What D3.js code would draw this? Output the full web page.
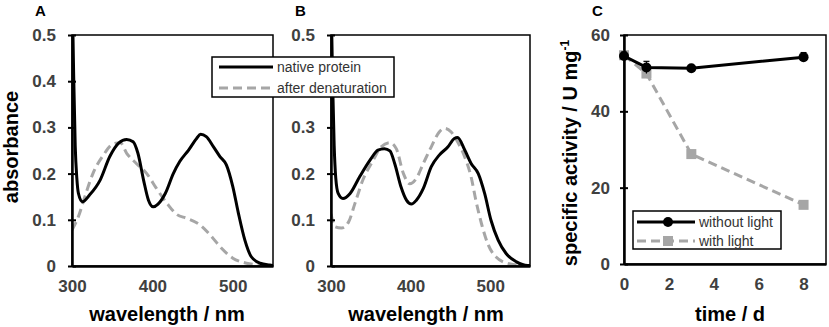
<!DOCTYPE html>
<html>
<head>
<meta charset="utf-8">
<script src="https://cdn.jsdelivr.net/npm/d3@7"></script>
<style>
body { margin: 0; background: #fff; }
svg { font-family: "Liberation Sans", Arial, sans-serif; display: block; }
</style>
</head>
<body>
<script>
// panel A: spectra of the native and the denatured protein
var wlNativeA = [300, 302, 304, 306, 308, 313, 322, 335, 347, 358, 368, 376, 382, 389, 395, 401, 407, 416, 426, 434, 445, 455, 460, 467, 476, 484, 492, 500, 507, 515, 523, 534, 546, 550];
var absNativeA = [0.62, 0.42, 0.26, 0.19, 0.157, 0.139, 0.154, 0.186, 0.237, 0.266, 0.274, 0.269, 0.244, 0.186, 0.143, 0.128, 0.134, 0.157, 0.2, 0.226, 0.251, 0.276, 0.285, 0.28, 0.258, 0.237, 0.219, 0.172, 0.114, 0.056, 0.02, 0.006, 0.002, 0.001];
var wlDenatA = [300, 308, 316, 326, 339, 351, 360, 368, 380, 393, 405, 418, 430, 443, 459, 472, 484, 500, 517, 535, 550];
var absDenatA = [0.078, 0.107, 0.15, 0.2, 0.24, 0.264, 0.267, 0.244, 0.222, 0.2, 0.168, 0.136, 0.112, 0.103, 0.089, 0.067, 0.042, 0.017, 0.006, 0.002, 0.001];

// panel B
var wlNativeB = [300, 302, 304, 306, 309, 315, 324, 336, 349, 359, 367, 374, 380, 388, 395, 401, 407, 416, 426, 436, 447, 455, 459, 468, 476, 485, 493, 501, 510, 520, 533, 547, 550];
var absNativeB = [0.6, 0.4, 0.26, 0.19, 0.157, 0.146, 0.157, 0.193, 0.229, 0.251, 0.254, 0.249, 0.222, 0.171, 0.142, 0.134, 0.142, 0.168, 0.215, 0.24, 0.258, 0.276, 0.278, 0.251, 0.222, 0.2, 0.157, 0.099, 0.056, 0.027, 0.009, 0.001, 0.001];
var wlDenatB = [300, 305, 313, 322, 330, 340, 353, 363, 374, 382, 391, 399, 407, 416, 426, 436, 443, 451, 459, 468, 476, 482, 489, 497, 507, 524, 547, 550];
var absDenatB = [0.113, 0.085, 0.082, 0.095, 0.135, 0.186, 0.229, 0.258, 0.267, 0.254, 0.2, 0.178, 0.189, 0.222, 0.258, 0.29, 0.298, 0.29, 0.269, 0.236, 0.193, 0.142, 0.092, 0.048, 0.02, 0.005, 0.001, 0.001];

// panel C: activity over time
var days = [0, 1, 3, 8];
var activityDark = [54.5, 51.5, 51.3, 54.2];
var errDark = [1.0, 1.6, 0.6, 1.2];
var activityLight = [54.7, 49.9, 28.8, 15.5];
var errLight = [1.0, 1.2, 0.6, 0.5];

var absTicks = [0, 0.1, 0.2, 0.3, 0.4, 0.5];
var wlTicks = [300, 400, 500];
var dayTicks = [0, 2, 4, 6, 8];
var actTicks = [0, 20, 40, 60];

var legendSpectra = ["native protein", "after denaturation"];
var legendActivity = ["without light", "with light"];

var black = "#000", grey = "#a6a6a6", tickGrey = "#404040";

var svg = d3.select("body").append("svg")
    .attr("width", 829)
    .attr("height", 327);

function styleAxis(g, crossAttr) {
    g.select(".domain").attr("stroke", "#000").attr("stroke-width", 2.5);
    g.selectAll(".tick line").attr("stroke", "#000").attr("stroke-width", 2).attr(crossAttr, 4);
    g.selectAll(".tick text")
        .attr("fill", tickGrey)
        .attr("font-size", 17)
        .attr("font-weight", "bold")
        .attr("font-family", "Liberation Sans, Arial, sans-serif");
}

function drawFrame(left, right, top, bottom) {
    svg.append("rect")
        .attr("x", left).attr("y", top)
        .attr("width", right - left).attr("height", bottom - top)
        .attr("fill", "none")
        .attr("stroke", "#000")
        .attr("stroke-width", 1.5);
}

function spectrum(id, left, right, wlN, absN, wlD, absD, title, titleX, letter, letterX) {
    var top = 35, bottom = 266;
    var x = d3.scaleLinear().domain([300, 550]).range([left, right]);
    var y = d3.scaleLinear().domain([0, 0.5]).range([bottom, top]);

    svg.append("clipPath").attr("id", "clip" + id)
        .append("rect")
        .attr("x", left).attr("y", top)
        .attr("width", right - left).attr("height", bottom - top);

    var line = d3.line()
        .x(function (d) { return x(d[0]); })
        .y(function (d) { return y(d[1]); })
        .curve(d3.curveMonotoneX);

    var plot = svg.append("g").attr("clip-path", "url(#clip" + id + ")");
    plot.append("path")
        .attr("d", line(d3.zip(wlD, absD)))
        .attr("fill", "none")
        .attr("stroke", grey)
        .attr("stroke-width", 3)
        .attr("stroke-dasharray", "9,5");
    plot.append("path")
        .attr("d", line(d3.zip(wlN, absN)))
        .attr("fill", "none")
        .attr("stroke", black)
        .attr("stroke-width", 3);

    drawFrame(left, right, top, bottom);

    var ya = svg.append("g")
        .attr("transform", "translate(" + left + ",0)")
        .call(d3.axisLeft(y).tickValues(absTicks).tickSize(4).tickSizeOuter(0).tickPadding(12)
            .tickFormat(function (d) { return d === 0 ? "0" : d3.format(".1f")(d); }));
    styleAxis(ya, "x1");

    var xa = svg.append("g")
        .attr("transform", "translate(0," + bottom + ")")
        .call(d3.axisBottom(x).tickValues(wlTicks).tickSize(4).tickSizeOuter(0).tickPadding(10));
    styleAxis(xa, "y1");

    svg.append("text")
        .attr("x", titleX).attr("y", 321)
        .attr("text-anchor", "middle")
        .attr("font-size", 20).attr("font-weight", "bold")
        .text(title);

    svg.append("text")
        .attr("x", letterX).attr("y", 16)
        .attr("font-size", 15).attr("font-weight", "bold")
        .text(letter);
}

spectrum("A", 72, 273, wlNativeA, absNativeA, wlDenatA, absDenatA, "wavelength / nm", 167, "A", 35);
spectrum("B", 331, 530, wlNativeB, absNativeB, wlDenatB, absDenatB, "wavelength / nm", 426, "B", 295);

svg.append("text")
    .attr("transform", "translate(18,147) rotate(-90)")
    .attr("text-anchor", "middle")
    .attr("font-size", 20).attr("font-weight", "bold")
    .text("absorbance");

// shared legend for A and B, drawn over both panels like in the original
var leg = svg.append("g");
leg.append("rect")
    .attr("x", 212).attr("y", 57)
    .attr("width", 182).attr("height", 40)
    .attr("fill", "#fff").attr("stroke", "#000").attr("stroke-width", 1.5);
legendSpectra.forEach(function (name, i) {
    var ly = 67 + i * 21;
    leg.append("line")
        .attr("x1", 219).attr("x2", 273).attr("y1", ly).attr("y2", ly)
        .attr("stroke", i === 0 ? black : grey)
        .attr("stroke-width", 3)
        .attr("stroke-dasharray", i === 0 ? null : "9,5");
    leg.append("text")
        .attr("x", 277).attr("y", ly + 5)
        .attr("font-size", 14).attr("fill", "#333")
        .text(name);
});

// panel C
(function () {
    var left = 624, right = 826, top = 35, bottom = 264;
    var x = d3.scaleLinear().domain([0, 9]).range([left, right]);
    var y = d3.scaleLinear().domain([0, 60]).range([bottom, top]);

    var line = d3.line()
        .x(function (d) { return x(d[0]); })
        .y(function (d) { return y(d[1]); });

    drawFrame(left, right, top, bottom);

    var series = [
        { v: activityLight, e: errLight, color: grey, dash: "9,5", shape: "square" },
        { v: activityDark, e: errDark, color: black, dash: null, shape: "circle" }
    ];

    series.forEach(function (s) {
        var pts = d3.zip(days, s.v, s.e);
        svg.append("path")
            .attr("d", line(pts))
            .attr("fill", "none")
            .attr("stroke", s.color)
            .attr("stroke-width", 3)
            .attr("stroke-dasharray", s.dash);
        var eb = svg.append("g").selectAll("g").data(pts).enter().append("g");
        eb.append("line")
            .attr("x1", function (d) { return x(d[0]); })
            .attr("x2", function (d) { return x(d[0]); })
            .attr("y1", function (d) { return y(d[1] - d[2]); })
            .attr("y2", function (d) { return y(d[1] + d[2]); })
            .attr("stroke", s.color).attr("stroke-width", 1.2);
        eb.append("line")
            .attr("x1", function (d) { return x(d[0]) - 3; })
            .attr("x2", function (d) { return x(d[0]) + 3; })
            .attr("y1", function (d) { return y(d[1] + d[2]); })
            .attr("y2", function (d) { return y(d[1] + d[2]); })
            .attr("stroke", s.color).attr("stroke-width", 1.2);
        var m = svg.append("g").selectAll(".m").data(pts).enter();
        if (s.shape === "circle") {
            m.append("circle")
                .attr("cx", function (d) { return x(d[0]); })
                .attr("cy", function (d) { return y(d[1]); })
                .attr("r", 5)
                .attr("fill", s.color);
        } else {
            m.append("rect")
                .attr("x", function (d) { return x(d[0]) - 5; })
                .attr("y", function (d) { return y(d[1]) - 5; })
                .attr("width", 10).attr("height", 10)
                .attr("fill", s.color);
        }
    });

    var ya = svg.append("g")
        .attr("transform", "translate(" + left + ",0)")
        .call(d3.axisLeft(y).tickValues(actTicks).tickSize(4).tickSizeOuter(0).tickPadding(10));
    styleAxis(ya, "x1");

    var xa = svg.append("g")
        .attr("transform", "translate(0," + bottom + ")")
        .call(d3.axisBottom(x).tickValues(dayTicks).tickSize(4).tickSizeOuter(0).tickPadding(10));
    styleAxis(xa, "y1");

    svg.append("text")
        .attr("x", 730).attr("y", 321)
        .attr("text-anchor", "middle")
        .attr("font-size", 20).attr("font-weight", "bold")
        .text("time / d");

    var yt = svg.append("text")
        .attr("transform", "translate(577,153) rotate(-90)")
        .attr("text-anchor", "middle")
        .attr("font-size", 20).attr("font-weight", "bold");
    yt.append("tspan").text("specific activity / U mg");
    yt.append("tspan").attr("font-size", 12).attr("dy", -8).text("-1");

    svg.append("text")
        .attr("x", 592).attr("y", 16)
        .attr("font-size", 15).attr("font-weight", "bold")
        .text("C");

    // legend
    var lg = svg.append("g");
    lg.append("rect")
        .attr("x", 633).attr("y", 211)
        .attr("width", 148).attr("height", 38)
        .attr("fill", "#fff").attr("stroke", "#000").attr("stroke-width", 1.5);
    legendActivity.forEach(function (name, i) {
        var ly = 222 + i * 19;
        var s = i === 0 ? series[1] : series[0];
        lg.append("line")
            .attr("x1", 637).attr("x2", 695).attr("y1", ly).attr("y2", ly)
            .attr("stroke", s.color).attr("stroke-width", 3)
            .attr("stroke-dasharray", s.dash);
        if (s.shape === "circle") {
            lg.append("circle").attr("cx", 668).attr("cy", ly).attr("r", 5).attr("fill", s.color);
        } else {
            lg.append("rect").attr("x", 663).attr("y", ly - 5).attr("width", 10).attr("height", 10).attr("fill", s.color);
        }
        lg.append("text")
            .attr("x", 699).attr("y", ly + 5)
            .attr("font-size", 14).attr("fill", "#333")
            .text(name);
    });
})();
</script>
</body>
</html>
